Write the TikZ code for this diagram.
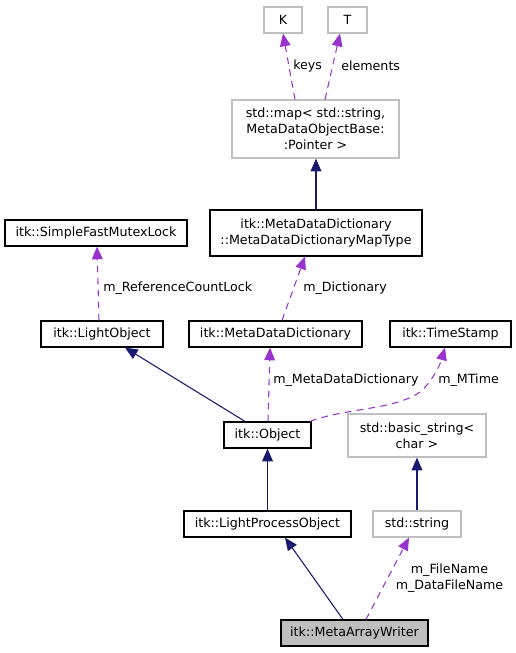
\documentclass[tikz,border=0pt]{standalone}
\usepackage{fontspec}
\setmainfont{DejaVu Sans}
\usetikzlibrary{arrows.meta}
\definecolor{navyc}{HTML}{191970}
\definecolor{purp}{HTML}{9A32CD}
\definecolor{grayb}{HTML}{BFBFBF}
\definecolor{fillg}{HTML}{BFBFBF}
\tikzset{
  box/.style={draw=black, line width=0.9pt, inner sep=0pt, align=center, font=\fontsize{9.5}{12}\selectfont},
  gbox/.style={box, draw=grayb},
  inh/.style={navyc, line width=0.8pt, -{Triangle[length=9.5pt,width=8pt]}},
  use/.style={purp, line width=0.8pt, dash pattern=on 5pt off 4pt, -{Triangle[length=9.5pt,width=8pt]}},
  lbl/.style={font=\fontsize{9.5}{12}\selectfont, align=center, inner sep=0pt}
}
\begin{document}
\begin{tikzpicture}[x=0.75pt,y=-0.75pt]
\useasboundingbox (0,0) rectangle (515,653);
\node[gbox, minimum width=38*0.75pt, minimum height=26*0.75pt] (K) at (283,20) {K};
\node[gbox, minimum width=39*0.75pt, minimum height=26*0.75pt] (T) at (347.5,20) {T};
\node[gbox, minimum width=167*0.75pt, minimum height=58*0.75pt] (map) at (315.5,129) {std::map< std::string,\\ MetaDataObjectBase:\\:Pointer >};
\node[box, minimum width=212*0.75pt, minimum height=46*0.75pt] (mt) at (316,233) {itk::MetaDataDictionary\\::MetaDataDictionaryMapType};
\node[box, minimum width=182*0.75pt, minimum height=26*0.75pt] (sfm) at (96,233) {itk::SimpleFastMutexLock};
\node[box, minimum width=122*0.75pt, minimum height=26*0.75pt] (lo) at (102,334) {itk::LightObject};
\node[box, minimum width=173*0.75pt, minimum height=26*0.75pt] (mdd) at (275.5,334) {itk::MetaDataDictionary};
\node[box, minimum width=121*0.75pt, minimum height=26*0.75pt] (ts) at (450.5,334) {itk::TimeStamp};
\node[box, minimum width=87*0.75pt, minimum height=26*0.75pt] (obj) at (267.5,435) {itk::Object};
\node[gbox, minimum width=138*0.75pt, minimum height=43*0.75pt] (bs) at (417,435.5) {std::basic\_string<\\ char >};
\node[box, minimum width=167*0.75pt, minimum height=26*0.75pt] (lpo) at (267.5,524) {itk::LightProcessObject};
\node[gbox, minimum width=88*0.75pt, minimum height=26*0.75pt] (str) at (417,524) {std::string};
\node[box, fill=fillg, minimum width=147*0.75pt, minimum height=26*0.75pt] (maw) at (354.5,633) {itk::MetaArrayWriter};
% edges
\draw[use] (map.north -| 295,0) -- (K.south -| 283,0);
\node[lbl, anchor=west] (lk) at (293,66) {keys};
\draw[use] (map.north -| 325,0) -- (T.south -| 340,0);
\node[lbl, anchor=west] (le) at (341,66) {elements};
\draw[inh] (mt.north -| 316,0) -- (map.south -| 316,0);
\draw[use] (mdd.north -| 282,0) -- (mt.south -| 305,0);
\node[lbl, anchor=west] (ld) at (303,288) {m\_Dictionary};
\draw[use] (lo.north -| 99,0) -- (sfm.south -| 97,0);
\node[lbl, anchor=west] (lr) at (103,288) {m\_ReferenceCountLock};
\draw[inh] (obj.north -| 245,0) -- (lo.south -| 125,0);
\draw[use] (obj.north -| 268,0) -- (mdd.south -| 270,0);
\node[lbl, anchor=west] (lm) at (273,380) {m\_MetaDataDictionary};
\draw[use] (obj.north -| 310,0) .. controls (345,408) and (395,410) .. (420,392) .. controls (432,382) and (440,365) .. (ts.south -| 445,0);
\node[lbl, anchor=west] (lt) at (438,380) {m\_MTime};
\draw[inh] (lpo.north -| 267.5,0) -- (obj.south -| 267.5,0);
\draw[inh] (str.north -| 417,0) -- (bs.south -| 417,0);
\draw[inh] (maw.north -| 343,0) -- (lpo.south -| 285,0);
\draw[use] (maw.north -| 366,0) -- (str.south -| 409,0);
\node[lbl] (lf) at (449.5,578) {m\_FileName\\m\_DataFileName};
\end{tikzpicture}
\end{document}
